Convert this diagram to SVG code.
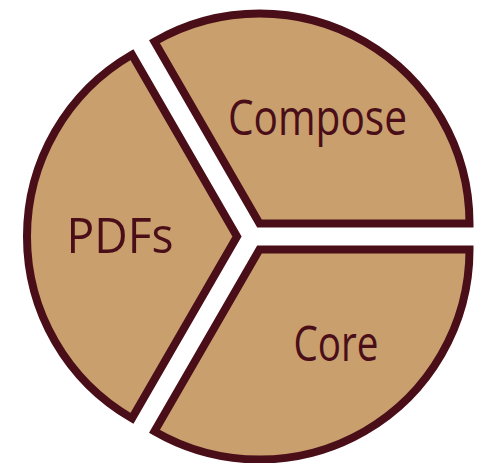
<svg xmlns="http://www.w3.org/2000/svg" width="484" height="463" viewBox="0 0 484 463">
<style>
.sec{fill:#C99F6E;stroke:#4A0E18;stroke-width:8;stroke-linejoin:miter}
.lbl{font-family:"Open Sans","DejaVu Sans",sans-serif;font-size:50px;fill:#4A0E18;text-anchor:middle}
</style>
<rect width="484" height="463" fill="#ffffff"/>
<g id="compose">
<path class="sec" d="M259.5,223.5 L154.5,41.63 A210,210 0 0 1 469.5,223.5 Z"/>
<text class="lbl" x="317.5" y="135" textLength="179" lengthAdjust="spacingAndGlyphs">Compose</text>
</g>
<g id="core">
<path class="sec" d="M259.5,249.49 L469.5,249.49 A210,210 0 0 1 154.5,431.36 Z"/>
<text class="lbl" x="336" y="361" textLength="85" lengthAdjust="spacingAndGlyphs">Core</text>
</g>
<g id="pdfs">
<path class="sec" d="M237,236.5 L132,418.37 A210,210 0 0 1 132,54.63 Z"/>
<text class="lbl" x="120" y="253" textLength="107" lengthAdjust="spacingAndGlyphs">PDFs</text>
</g>
<g id="connectors"/>
</svg>
